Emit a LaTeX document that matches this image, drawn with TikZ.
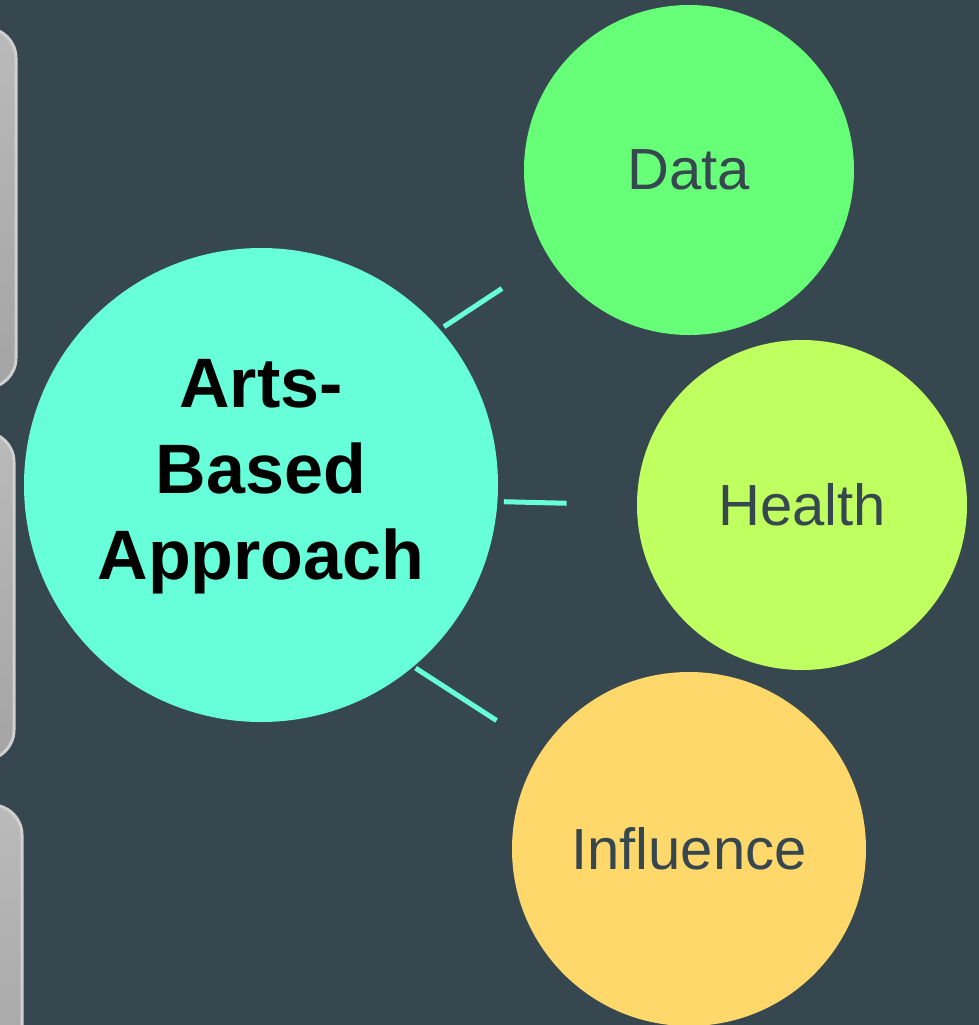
\documentclass[tikz,border=0pt]{standalone}
\usepackage{fontspec}
\setmainfont{Liberation Sans}
\definecolor{bg}{RGB}{55,71,79}
\definecolor{maincol}{RGB}{102,255,218}
\definecolor{datacol}{RGB}{102,255,119}
\definecolor{healthcol}{RGB}{192,255,96}
\definecolor{inflcol}{RGB}{254,216,106}
\definecolor{boxtop}{RGB}{186,186,186}
\definecolor{boxbot}{RGB}{164,164,164}
\definecolor{boxedge}{RGB}{208,208,208}
\tikzset{
  bubble/.style={circle, inner sep=0pt, draw=none},
  small/.style={font=\fontsize{29pt}{34pt}\selectfont, text=bg},
  sidebox/.style={rounded corners=15pt, draw=boxedge, line width=1.5pt, top color=boxtop, bottom color=boxbot},
  link/.style={draw=maincol, line width=2.5pt}
}
\begin{document}
\begin{tikzpicture}[x=0.5pt,y=-0.5pt]
\useasboundingbox (0,0) rectangle (979,1025);
\clip (0,0) rectangle (979,1025);
\fill[bg] (0,0) rectangle (979,1025);
% side boxes
\path[sidebox] (-60,28) rectangle (16,388);
\path[sidebox] (-60,432) rectangle (14,760);
\path[sidebox] (-60,805) rectangle (22,1120);
% circles
\node[bubble, fill=maincol, minimum size=237pt] (main) at (261,485) {};
\node[bubble, fill=datacol, minimum size=165pt, small] (data) at (689,170) {Data};
\node[bubble, fill=healthcol, minimum size=165pt, small] (health) at (802,505) {Health};
\node[bubble, fill=inflcol, minimum size=177pt, small] (infl) at (689,849) {Influence};
\node[align=center, font=\fontsize{35pt}{43pt}\selectfont\bfseries, text=black] (maintext) at (261,477) {Arts-\\Based\\Approach};
% connectors
\draw[link, shorten <=2.3pt, shorten >=28pt] (main.41.5) -- (data.212.4);
\draw[link, shorten <=3pt, shorten >=35pt] (main.-4.8) -- (health.west);
\draw[link, shorten <=1.2pt, shorten >=27pt] (main.-50.6) -- (infl.146.3);
\end{tikzpicture}
\end{document}
